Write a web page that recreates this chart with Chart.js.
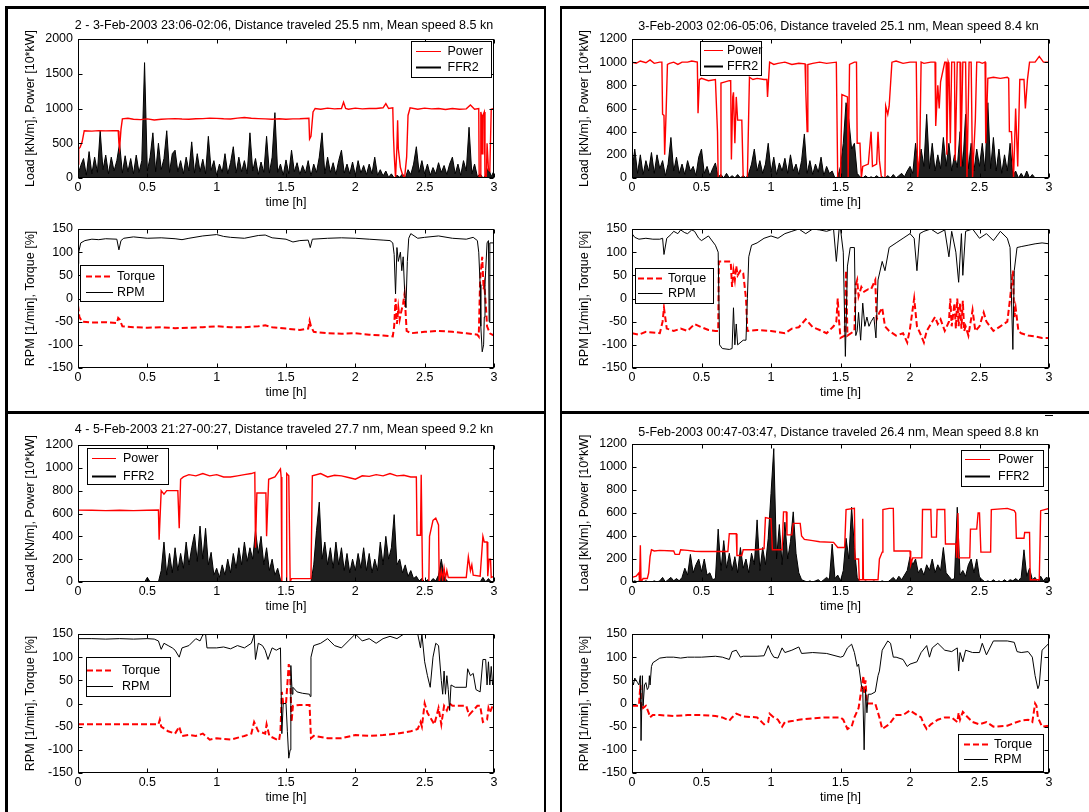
<!DOCTYPE html>
<html><head><meta charset="utf-8">
<script src="https://cdn.jsdelivr.net/npm/chart.js@4.4.0/dist/chart.umd.min.js"></script>
<style>
html,body{margin:0;padding:0;background:#fff;}
#fig{position:relative;width:1089px;height:812px;overflow:hidden;background:#fff;}
#fig canvas{position:absolute;}
.ln{position:absolute;background:#000;}
</style></head><body><div id="fig"></div>
<script>
// ---------- tick labels ----------
const xTickLabels = ['0','0.5','1','1.5','2','2.5','3'];
const yTicksLoad2000 = ['0','500','1000','1500','2000'];
const yTicksLoad1200 = ['0','200','400','600','800','1000','1200'];
const yTicksRpm = ['-150','-100','-50','0','50','100','150'];

// ---------- titles / labels ----------
const panelTitles = [
  '2 - 3-Feb-2003 23:06-02:06, Distance traveled 25.5 nm, Mean speed 8.5 kn',
  '3-Feb-2003 02:06-05:06, Distance traveled 25.1 nm, Mean speed 8.4 kn',
  '4 - 5-Feb-2003 21:27-00:27, Distance traveled 27.7 nm, Mean speed 9.2 kn',
  '5-Feb-2003 00:47-03:47, Distance traveled 26.4 nm, Mean speed 8.8 kn'
];
const yTitleLoad = 'Load [kN/m], Power [10*kW]';
const yTitleRpm = 'RPM [1/min], Torque [%]';
const xTitle = 'time [h]';

// ---------- FFR2 series, sampled every 0.02 h from 0 to 3 h ----------
const FFR_STEP = 0.02;
const ffr1 = [50,180,280,40,380,60,300,80,680,120,330,60,300,100,250,500,70,320,90,280,
60,330,80,250,1660,100,300,650,90,500,120,280,680,80,350,400,90,250,60,300,
100,520,70,350,90,270,60,600,110,250,40,200,80,350,60,220,450,70,300,90,
250,60,650,100,280,50,230,80,600,70,300,940,80,200,40,260,60,400,90,220,
50,180,70,250,30,200,80,300,650,60,300,80,220,50,250,400,70,200,60,230,
40,250,70,180,50,200,60,300,40,120,30,100,10,60,0,40,10,60,0,120,
50,200,450,80,250,60,200,40,150,60,220,80,180,50,200,300,60,200,40,250,
100,730,60,200,20,60,0,40,150,20,100];
const ffr2 = [60,250,40,200,30,150,60,220,40,200,80,150,20,120,350,60,180,40,120,30,
150,60,100,20,180,250,40,100,20,80,130,10,30,0,40,0,20,0,30,0,
20,0,40,120,250,60,150,40,120,300,50,180,30,130,60,170,40,200,60,120,
30,150,380,40,150,30,120,50,180,20,100,40,60,0,10,100,300,650,500,250,
300,40,10,0,20,0,10,0,20,0,10,0,20,0,30,0,20,40,10,60,
100,40,300,80,250,100,550,80,300,60,200,80,350,100,300,60,200,90,400,100,
550,80,300,60,250,100,300,60,650,80,350,60,250,40,200,60,300,20,60,0,
40,0,60,0,30,0,0,0,0,0,0];
const ffr3 = [0,0,0,0,0,0,0,0,0,0,0,0,0,0,0,0,0,0,0,0,
0,0,0,0,0,40,0,0,0,0,100,350,60,250,80,300,100,250,120,350,
150,300,420,180,490,200,470,150,260,60,120,40,150,60,200,80,250,120,300,150,
350,180,300,200,450,250,400,150,300,100,200,60,120,20,0,0,0,0,0,0,
0,0,0,0,0,150,450,700,200,350,150,300,120,350,150,300,100,250,80,200,
100,250,120,300,100,250,80,200,100,350,150,400,200,300,590,150,200,80,150,50,
100,30,50,10,30,0,20,0,30,10,60,200,50,10,0,0,0,0,0,0,
0,0,0,0,0,0,40,0,30,0,0];
const ffr4 = [0,10,0,20,0,10,0,0,10,0,10,40,0,20,40,10,30,10,40,120,
60,240,80,150,200,90,200,60,80,20,30,460,100,360,120,250,100,220,80,300,
120,200,80,250,150,540,100,300,150,380,770,1160,200,500,150,520,200,350,610,250,
80,20,10,0,10,0,10,20,0,20,40,20,330,30,60,10,100,380,200,650,
300,40,0,0,10,0,0,10,0,0,10,0,0,20,40,10,50,20,60,100,
220,150,200,80,120,60,150,100,200,80,150,100,300,80,50,20,30,650,60,100,
50,150,200,80,200,40,20,0,10,0,20,0,10,0,20,0,20,10,30,10,
40,280,50,120,20,40,0,50,10,40,30];

// ---------- Power series [time h, value] ----------
const power1 = [[0,200],[0.005,420],[0.015,440],[0.03,520],[0.045,680],[0.1,675],[0.15,682],[0.2,678],[0.25,680],[0.29,680],[0.295,500],[0.3,430],[0.31,700],[0.32,850],[0.36,860],[0.4,845],[0.45,840],[0.5,850],[0.55,835],[0.6,845],[0.65,850],[0.7,855],[0.75,848],[0.8,845],[0.85,852],[0.9,855],[0.95,862],[1.0,858],[1.05,852],[1.1,850],[1.15,862],[1.2,870],[1.25,860],[1.3,855],[1.35,850],[1.4,845],[1.45,852],[1.5,845],[1.55,850],[1.6,852],[1.665,860],[1.67,560],[1.68,600],[1.695,950],[1.71,1000],[1.75,990],[1.8,1005],[1.85,995],[1.9,1000],[1.915,1090],[1.93,1000],[1.95,990],[2.0,1005],[2.05,995],[2.1,1000],[2.15,1000],[2.2,1010],[2.22,1070],[2.24,1000],[2.27,1010],[2.275,600],[2.28,350],[2.29,0],[2.3,450],[2.305,830],[2.31,420],[2.325,150],[2.34,50],[2.355,0],[2.37,300],[2.38,900],[2.395,1010],[2.45,990],[2.5,1005],[2.55,995],[2.6,1000],[2.65,985],[2.7,1000],[2.75,990],[2.8,995],[2.83,1050],[2.86,990],[2.89,1000],[2.893,20],[2.9,20],[2.905,950],[2.91,900],[2.915,350],[2.92,900],[2.93,950],[2.935,20],[2.945,20],[2.95,500],[2.96,120],[2.97,100],[2.98,990],[3.0,1000]];
const power2 = [[0,1000],[0.03,990],[0.06,1010],[0.1,995],[0.13,1020],[0.16,990],[0.2,1000],[0.215,1000],[0.22,550],[0.23,540],[0.235,200],[0.245,550],[0.255,980],[0.27,990],[0.3,1000],[0.33,980],[0.36,1000],[0.4,1000],[0.43,1010],[0.47,1000],[0.475,560],[0.485,850],[0.5,860],[0.55,840],[0.6,850],[0.615,400],[0.62,0],[0.635,0],[0.64,820],[0.67,830],[0.7,840],[0.71,840],[0.715,160],[0.725,700],[0.73,740],[0.74,300],[0.75,700],[0.76,500],[0.79,500],[0.8,0],[0.83,0],[0.845,870],[0.87,850],[0.9,860],[0.95,850],[0.97,850],[0.975,700],[0.99,1000],[1.02,980],[1.05,990],[1.1,1000],[1.15,980],[1.2,990],[1.245,985],[1.25,760],[1.26,400],[1.265,980],[1.3,990],[1.35,1000],[1.4,990],[1.47,1000],[1.48,0],[1.5,0],[1.51,720],[1.55,700],[1.555,0],[1.565,980],[1.6,1000],[1.615,1000],[1.62,300],[1.64,300],[1.65,0],[1.66,100],[1.7,120],[1.72,400],[1.73,100],[1.76,120],[1.77,400],[1.78,150],[1.795,0],[1.82,0],[1.825,620],[1.84,550],[1.85,620],[1.87,1000],[1.9,1010],[1.95,990],[2.0,1000],[2.045,1000],[2.055,0],[2.07,200],[2.08,1000],[2.1,990],[2.15,1000],[2.18,1000],[2.185,450],[2.2,800],[2.21,600],[2.22,830],[2.25,1000],[2.26,1000],[2.265,200],[2.275,1000],[2.28,980],[2.29,300],[2.3,1000],[2.32,1000],[2.325,150],[2.34,1000],[2.36,1000],[2.365,100],[2.38,1000],[2.4,1000],[2.41,0],[2.425,1000],[2.44,1000],[2.45,0],[2.47,500],[2.48,1000],[2.5,1000],[2.52,990],[2.54,1000],[2.545,300],[2.56,860],[2.6,870],[2.65,860],[2.7,870],[2.71,860],[2.715,400],[2.73,400],[2.745,0],[2.76,600],[2.775,100],[2.79,850],[2.82,850],[2.83,600],[2.845,850],[2.86,1000],[2.9,1000],[2.93,1050],[2.96,1000],[3.0,1000]];
const power3 = [[0,630],[0.1,628],[0.2,625],[0.3,628],[0.4,625],[0.5,628],[0.58,630],[0.585,370],[0.6,800],[0.62,770],[0.64,800],[0.72,800],[0.73,470],[0.74,900],[0.76,920],[0.8,940],[0.85,930],[0.9,950],[0.95,930],[1.0,940],[1.05,920],[1.1,920],[1.15,930],[1.2,940],[1.25,950],[1.275,960],[1.28,300],[1.29,780],[1.355,780],[1.36,400],[1.375,900],[1.42,920],[1.46,990],[1.465,920],[1.47,0],[1.5,0],[1.505,950],[1.52,930],[1.53,0],[1.54,30],[1.6,30],[1.68,30],[1.69,930],[1.75,950],[1.8,920],[1.85,935],[1.9,930],[1.95,915],[2.0,900],[2.05,930],[2.1,925],[2.15,940],[2.2,930],[2.25,950],[2.3,930],[2.35,935],[2.4,920],[2.44,920],[2.445,410],[2.47,410],[2.475,940],[2.485,0],[2.53,0],[2.535,400],[2.56,540],[2.58,560],[2.6,500],[2.605,0],[2.62,100],[2.63,20],[2.64,120],[2.65,30],[2.66,100],[2.67,40],[2.8,40],[2.815,220],[2.83,100],[2.84,150],[2.85,60],[2.9,50],[2.92,400],[2.93,350],[2.95,350],[2.955,50],[2.965,200],[2.975,200],[2.98,40],[3.0,50]];
const power4 = [[0,40],[0.03,50],[0.05,80],[0.055,0],[0.06,320],[0.065,0],[0.08,30],[0.11,30],[0.12,80],[0.13,220],[0.14,280],[0.16,270],[0.2,275],[0.3,270],[0.31,240],[0.34,240],[0.35,280],[0.4,275],[0.45,268],[0.5,265],[0.6,265],[0.69,265],[0.7,420],[0.75,420],[0.755,230],[0.79,230],[0.8,280],[0.9,280],[0.95,290],[0.96,560],[1.0,550],[1.01,280],[1.08,280],[1.09,610],[1.11,610],[1.115,410],[1.15,410],[1.16,510],[1.21,510],[1.22,400],[1.24,370],[1.3,360],[1.35,350],[1.45,345],[1.48,300],[1.53,300],[1.54,630],[1.6,640],[1.605,200],[1.63,200],[1.635,20],[1.655,20],[1.66,550],[1.665,20],[1.77,20],[1.78,200],[1.8,260],[1.805,630],[1.85,640],[1.88,640],[1.885,270],[2.0,270],[2.005,150],[2.02,210],[2.085,210],[2.09,630],[2.15,630],[2.155,390],[2.19,390],[2.195,630],[2.25,630],[2.255,330],[2.33,330],[2.335,210],[2.345,600],[2.35,210],[2.43,210],[2.435,460],[2.48,460],[2.49,600],[2.5,600],[2.51,260],[2.58,260],[2.585,630],[2.7,640],[2.75,620],[2.76,600],[2.765,380],[2.82,380],[2.825,430],[2.86,430],[2.865,20],[2.93,20],[2.94,620],[3.0,640]];

// ---------- RPM series [time h, value] ----------
const rpm1 = [[0,75],[0.005,100],[0.02,120],[0.05,125],[0.1,128],[0.15,127],[0.2,129],[0.28,128],[0.295,105],[0.31,125],[0.33,130],[0.4,133],[0.5,130],[0.6,131],[0.7,129],[0.75,127],[0.8,130],[0.9,135],[1.0,138],[1.05,134],[1.1,132],[1.2,130],[1.3,136],[1.35,137],[1.4,131],[1.5,128],[1.55,122],[1.6,125],[1.66,126],[1.675,110],[1.69,128],[1.8,130],[1.9,131],[2.0,130],[2.1,128],[2.2,126],[2.25,125],[2.27,120],[2.28,95],[2.29,10],[2.3,110],[2.31,80],[2.325,100],[2.335,60],[2.345,90],[2.355,20],[2.365,-20],[2.375,80],[2.385,130],[2.4,140],[2.45,130],[2.5,132],[2.6,135],[2.7,130],[2.8,128],[2.85,132],[2.88,125],[2.89,100],[2.9,30],[2.905,-60],[2.915,-115],[2.925,-100],[2.93,-40],[2.935,30],[2.94,60],[2.95,120],[2.96,125],[2.965,-50],[2.97,120],[3.0,120]];
const rpm2 = [[0,140],[0.02,132],[0.05,128],[0.1,130],[0.15,128],[0.2,128],[0.22,130],[0.23,95],[0.25,130],[0.28,138],[0.3,145],[0.33,140],[0.35,148],[0.38,142],[0.4,140],[0.43,148],[0.45,145],[0.48,130],[0.5,125],[0.55,135],[0.6,115],[0.62,100],[0.63,-100],[0.65,-108],[0.7,-110],[0.72,-108],[0.73,-20],[0.74,-100],[0.75,-55],[0.76,-100],[0.8,-90],[0.82,-90],[0.83,0],[0.84,90],[0.86,115],[0.9,120],[0.95,130],[1.0,135],[1.05,130],[1.1,140],[1.15,145],[1.2,150],[1.25,140],[1.3,150],[1.35,148],[1.4,145],[1.45,150],[1.47,80],[1.49,150],[1.5,150],[1.52,100],[1.535,-125],[1.55,70],[1.57,110],[1.6,110],[1.61,-80],[1.62,-70],[1.63,-30],[1.645,-90],[1.66,-10],[1.675,-60],[1.69,-40],[1.705,-60],[1.72,-50],[1.74,-40],[1.755,-85],[1.77,40],[1.8,80],[1.82,60],[1.85,110],[1.9,120],[1.95,130],[2.0,140],[2.03,130],[2.05,60],[2.07,140],[2.1,145],[2.15,150],[2.2,140],[2.25,148],[2.28,90],[2.3,145],[2.33,100],[2.35,35],[2.37,140],[2.38,50],[2.4,145],[2.45,150],[2.5,130],[2.55,140],[2.6,125],[2.65,145],[2.7,130],[2.72,110],[2.74,-110],[2.75,60],[2.77,110],[2.8,112],[2.85,115],[2.9,118],[2.95,120],[3.0,118]];
const rpm3 = [[0,140],[0.1,140],[0.2,139],[0.3,140],[0.4,139],[0.5,140],[0.55,139],[0.58,135],[0.6,117],[0.62,130],[0.65,125],[0.68,120],[0.7,115],[0.73,100],[0.75,120],[0.8,125],[0.85,140],[0.88,135],[0.9,148],[0.92,150],[0.93,120],[1.0,120],[1.05,122],[1.1,118],[1.15,125],[1.2,120],[1.25,130],[1.27,148],[1.28,95],[1.3,130],[1.33,125],[1.35,115],[1.37,95],[1.4,120],[1.43,115],[1.46,120],[1.47,-65],[1.48,0],[1.5,0],[1.51,-60],[1.52,-118],[1.53,-100],[1.535,82],[1.545,20],[1.55,35],[1.58,25],[1.62,22],[1.67,20],[1.675,15],[1.68,100],[1.7,125],[1.75,130],[1.8,140],[1.85,125],[1.9,120],[1.95,135],[2.0,150],[2.05,135],[2.1,140],[2.15,130],[2.2,140],[2.25,145],[2.3,140],[2.35,150],[2.45,150],[2.47,120],[2.48,150],[2.5,90],[2.52,60],[2.54,35],[2.56,100],[2.58,130],[2.6,125],[2.62,50],[2.63,20],[2.64,70],[2.65,20],[2.66,60],[2.67,30],[2.68,-15],[2.69,40],[2.72,35],[2.8,35],[2.81,75],[2.83,60],[2.85,65],[2.87,30],[2.9,25],[2.92,95],[2.94,95],[2.95,40],[2.96,90],[2.97,40],[2.98,80],[2.99,40],[3.0,50]];
const rpm4 = [[0,50],[0.01,40],[0.02,55],[0.04,45],[0.05,40],[0.06,60],[0.065,-80],[0.075,60],[0.08,-5],[0.09,40],[0.1,45],[0.11,30],[0.12,35],[0.125,60],[0.13,40],[0.14,80],[0.15,88],[0.2,98],[0.25,100],[0.3,100],[0.35,98],[0.4,100],[0.45,100],[0.5,100],[0.6,102],[0.65,100],[0.7,95],[0.72,112],[0.75,115],[0.78,100],[0.8,102],[0.9,102],[0.95,103],[0.98,125],[1.0,110],[1.02,100],[1.05,98],[1.08,120],[1.1,110],[1.15,115],[1.2,122],[1.22,108],[1.3,110],[1.4,108],[1.5,100],[1.52,102],[1.55,120],[1.58,128],[1.6,110],[1.62,80],[1.63,85],[1.65,40],[1.66,30],[1.67,-100],[1.68,30],[1.69,-20],[1.7,20],[1.72,20],[1.75,25],[1.77,60],[1.78,70],[1.8,115],[1.84,135],[1.86,130],[1.88,100],[1.9,100],[1.95,95],[1.98,80],[2.0,85],[2.05,90],[2.08,110],[2.12,125],[2.14,100],[2.16,120],[2.2,130],[2.25,115],[2.3,112],[2.34,120],[2.35,70],[2.36,110],[2.38,90],[2.4,115],[2.45,110],[2.5,110],[2.52,130],[2.55,105],[2.6,135],[2.7,135],[2.75,132],[2.77,112],[2.8,110],[2.85,112],[2.88,100],[2.9,60],[2.92,32],[2.93,40],[2.95,115],[3.0,130]];

// ---------- Torque series [time h, value] ----------
const torque1 = [[0,-15],[0.01,-40],[0.03,-50],[0.1,-52],[0.2,-51],[0.28,-53],[0.29,-42],[0.3,-45],[0.32,-60],[0.4,-62],[0.5,-63],[0.6,-62],[0.7,-64],[0.8,-63],[0.9,-62],[1.0,-60],[1.1,-62],[1.2,-62],[1.3,-60],[1.35,-58],[1.4,-62],[1.5,-65],[1.6,-68],[1.66,-65],[1.67,-48],[1.68,-60],[1.7,-72],[1.8,-75],[1.9,-76],[2.0,-75],[2.1,-78],[2.2,-80],[2.27,-82],[2.28,-60],[2.29,0],[2.3,-55],[2.31,-20],[2.32,-45],[2.33,-30],[2.345,-10],[2.355,10],[2.37,-70],[2.4,-75],[2.5,-72],[2.6,-70],[2.7,-72],[2.8,-75],[2.88,-78],[2.89,-82],[2.9,40],[2.915,90],[2.925,20],[2.93,30],[2.94,-10],[2.95,-60],[2.97,-75],[3.0,-80]];
const torque2 = [[0,-75],[0.05,-78],[0.1,-72],[0.2,-75],[0.22,-50],[0.23,-20],[0.25,-65],[0.3,-70],[0.35,-65],[0.4,-70],[0.45,-55],[0.5,-62],[0.55,-68],[0.6,-70],[0.62,-70],[0.625,80],[0.71,80],[0.72,25],[0.73,60],[0.74,40],[0.75,70],[0.76,50],[0.78,60],[0.8,55],[0.82,0],[0.83,-70],[0.9,-68],[1.0,-70],[1.1,-75],[1.15,-65],[1.2,-62],[1.25,-45],[1.3,-62],[1.35,-68],[1.4,-75],[1.45,-60],[1.47,-50],[1.48,0],[1.49,-50],[1.5,-85],[1.53,-80],[1.54,60],[1.55,-80],[1.6,-70],[1.61,30],[1.62,40],[1.63,5],[1.65,25],[1.67,15],[1.7,20],[1.72,20],[1.75,40],[1.76,-45],[1.78,-30],[1.8,-20],[1.82,-60],[1.85,-70],[1.9,-80],[1.95,-75],[1.98,-95],[2.0,-65],[2.03,0],[2.05,-60],[2.08,-80],[2.1,-95],[2.12,-70],[2.15,-55],[2.18,-40],[2.2,-55],[2.22,-45],[2.25,-70],[2.28,-50],[2.29,0],[2.3,-60],[2.32,-10],[2.33,-65],[2.34,0],[2.35,-60],[2.36,-10],[2.37,-65],[2.38,-5],[2.39,-70],[2.4,-60],[2.42,-80],[2.45,-25],[2.47,-70],[2.5,-60],[2.53,-30],[2.55,-50],[2.6,-70],[2.65,-60],[2.7,-50],[2.72,0],[2.74,60],[2.75,-40],[2.76,-20],[2.78,-70],[2.8,-75],[2.85,-80],[2.9,-82],[2.95,-85],[3.0,-85]];
const torque3 = [[0,-45],[0.2,-45],[0.4,-45],[0.58,-45],[0.59,-35],[0.6,-50],[0.65,-60],[0.7,-65],[0.73,-50],[0.75,-70],[0.8,-68],[0.85,-70],[0.9,-65],[0.95,-78],[1.0,-75],[1.1,-78],[1.2,-70],[1.25,-65],[1.27,-40],[1.3,-60],[1.35,-65],[1.36,-45],[1.38,-70],[1.45,-80],[1.46,-60],[1.47,25],[1.48,0],[1.5,0],[1.52,85],[1.53,60],[1.54,-40],[1.55,-5],[1.6,-3],[1.67,-3],[1.68,-75],[1.7,-70],[1.8,-75],[1.9,-75],[2.0,-68],[2.1,-70],[2.2,-68],[2.3,-65],[2.4,-60],[2.45,-55],[2.47,-40],[2.48,-50],[2.49,-25],[2.5,0],[2.52,-20],[2.55,-35],[2.57,-45],[2.6,-10],[2.62,-45],[2.64,-5],[2.66,-15],[2.68,0],[2.7,-5],[2.8,-5],[2.82,-25],[2.85,-15],[2.88,-5],[2.9,-5],[2.92,-40],[2.95,-35],[2.96,-10],[2.97,-20],[2.99,-5],[3.0,-5]];
const torque4 = [[0,-5],[0.05,-5],[0.06,40],[0.065,-5],[0.07,0],[0.08,-10],[0.1,-5],[0.12,-20],[0.13,-30],[0.15,-25],[0.2,-25],[0.3,-27],[0.4,-25],[0.5,-25],[0.6,-27],[0.65,-30],[0.7,-37],[0.72,-30],[0.75,-22],[0.8,-28],[0.9,-30],[0.95,-45],[0.98,-40],[0.99,-22],[1.02,-30],[1.05,-35],[1.08,-50],[1.1,-40],[1.15,-38],[1.2,-35],[1.3,-32],[1.4,-30],[1.5,-30],[1.52,-35],[1.55,-55],[1.58,-50],[1.6,-30],[1.63,-10],[1.65,30],[1.665,60],[1.67,20],[1.68,50],[1.69,0],[1.7,0],[1.75,0],[1.78,-30],[1.8,-55],[1.85,-45],[1.9,-25],[1.95,-25],[2.0,-15],[2.05,-25],[2.08,-30],[2.1,-45],[2.12,-55],[2.15,-45],[2.2,-35],[2.25,-30],[2.3,-30],[2.34,-40],[2.35,-20],[2.36,-35],[2.38,-18],[2.4,-25],[2.45,-40],[2.5,-45],[2.55,-40],[2.6,-50],[2.7,-48],[2.75,-42],[2.8,-37],[2.85,-35],[2.88,-40],[2.9,0],[2.91,-5],[2.92,-30],[2.95,-50],[3.0,-48]];

// ---------- rendering ----------
const FONT = '"Liberation Sans", Arial, Helvetica, sans-serif';
const FS = 12.5;
Chart.defaults.font.family = FONT;
Chart.defaults.font.size = FS;
Chart.defaults.color = '#000';
const fig = document.getElementById('fig');

const ffrPts = arr => arr.map((v, i) => ({x: i * FFR_STEP, y: v}));
const pairPts = arr => arr.map(p => ({x: p[0], y: p[1]}));

const framePlugin = {
  id: 'frame',
  afterDatasetsDraw(chart, args, o) {
    const {ctx, chartArea: a, scales} = chart;
    const L = Math.round(a.left) + 0.5, R = Math.round(a.right) - 0.5;
    const T = Math.round(a.top) + 0.5, B = Math.round(a.bottom) - 0.5;
    ctx.save();
    ctx.strokeStyle = '#000'; ctx.lineWidth = 1; ctx.setLineDash([]);
    ctx.strokeRect(L, T, R - L, B - T);
    ctx.beginPath();
    scales.x.ticks.forEach(t => {
      const px = Math.round(scales.x.getPixelForValue(t.value)) + 0.5;
      ctx.moveTo(px, B); ctx.lineTo(px, B - 4);
      ctx.moveTo(px, T); ctx.lineTo(px, T + 4);
    });
    scales.y.ticks.forEach(t => {
      const py = Math.round(scales.y.getPixelForValue(t.value)) + 0.5;
      ctx.moveTo(L, py); ctx.lineTo(L + 4, py);
      ctx.moveTo(R, py); ctx.lineTo(R - 4, py);
    });
    ctx.stroke();
    // legend
    const lg = o.legend;
    const bx = Math.round(a.left + lg.bx) + 0.5, by = Math.round(a.top + lg.by) + 0.5;
    ctx.fillStyle = '#fff';
    ctx.fillRect(bx, by, Math.round(lg.bw), Math.round(lg.bh));
    ctx.strokeStyle = '#000';
    ctx.strokeRect(bx, by, Math.round(lg.bw), Math.round(lg.bh));
    chart.data.datasets.forEach((ds, i) => {
      const ry = Math.round(a.top + lg.rows[i]) + 0.5;
      ctx.save();
      ctx.strokeStyle = ds.borderColor; ctx.lineWidth = lg.widths[i];
      ctx.setLineDash(ds.borderDash || []);
      ctx.beginPath(); ctx.moveTo(a.left + lg.lx1, ry); ctx.lineTo(a.left + lg.lx2, ry); ctx.stroke();
      ctx.restore();
      ctx.fillStyle = '#000'; ctx.font = FS + 'px ' + FONT;
      ctx.textAlign = 'left'; ctx.textBaseline = 'middle';
      ctx.fillText(ds.label, a.left + lg.tx, a.top + lg.rows[i] + 0.5);
    });
    // panel title
    if (o.title) {
      ctx.fillStyle = '#000'; ctx.font = FS + 'px ' + FONT;
      ctx.textAlign = 'center'; ctx.textBaseline = 'middle';
      ctx.fillText(o.title, (a.left + a.right) / 2 - 2, a.top - o.titleDy);
    }
    ctx.restore();
  }
};

function makeChart(p) {
  const W = 70 + p.w + 22, H = 40 + p.h + 36;
  const cv = document.createElement('canvas');
  cv.width = W; cv.height = H;
  cv.style.left = (p.x - 70) + 'px'; cv.style.top = (p.y - 40) + 'px';
  cv.style.width = W + 'px'; cv.style.height = H + 'px';
  fig.appendChild(cv);
  new Chart(cv, {
    type: 'line',
    data: {datasets: p.datasets},
    options: {
      responsive: false, animation: false, devicePixelRatio: 1, events: [],
      layout: {padding: {left: 0, top: 40, right: 22, bottom: 0}},
      elements: {point: {radius: 0}, line: {tension: 0}},
      plugins: {legend: {display: false}, tooltip: {enabled: false}, title: {display: false},
        filler: {propagate: false},
        frame: {legend: p.legend, title: p.title, titleDy: p.titleDy}},
      scales: {
        x: {type: 'linear', min: 0, max: 3,
          afterFit: s => { s.height = 36; },
          ticks: {stepSize: 0.5, autoSkip: false, maxRotation: 0, padding: 2, color: '#000',
            font: {family: FONT, size: FS}, callback: (v, i) => xTickLabels[i]},
          grid: {display: false, drawTicks: false}, border: {display: false},
          title: {display: true, text: xTitle, color: '#000', font: {family: FONT, size: FS},
            padding: {top: 0, bottom: 3.5}}},
        y: {type: 'linear', min: p.ymin, max: p.ymax,
          afterFit: s => { s.width = 70; },
          ticks: {stepSize: p.ystep, autoSkip: false, padding: 5, color: '#000',
            font: {family: FONT, size: FS}, callback: (v, i) => p.yLabels[i]},
          grid: {display: false, drawTicks: false}, border: {display: false},
          title: {display: true, text: p.yTitle, color: '#000', font: {family: FONT, size: FS},
            padding: {top: 15.5, bottom: 0}}}
      }
    },
    plugins: [framePlugin]
  });
}

function loadSets(power, ffr) {
  return [
    {label: 'Power', data: pairPts(power), borderColor: '#ff0000', borderWidth: 1.4, order: 0},
    {label: 'FFR2', data: ffrPts(ffr), borderColor: '#000000', borderWidth: 1, order: 1,
     fill: 'origin', backgroundColor: 'rgba(0,0,0,0.88)'}
  ];
}
function rpmSets(torque, rpm) {
  return [
    {label: 'Torque', data: pairPts(torque), borderColor: '#ff0000', borderWidth: 2, borderDash: [6, 3], order: 1},
    {label: 'RPM', data: pairPts(rpm), borderColor: '#000000', borderWidth: 1, order: 0}
  ];
}

const panels = [
  {x: 78, y: 39, w: 416, h: 139, ymin: 0, ymax: 2000, ystep: 500, yLabels: yTicksLoad2000, yTitle: yTitleLoad,
   title: panelTitles[0], titleDy: 13, datasets: loadSets(power1, ffr1),
   legend: {bx: 333, by: 2, bw: 80, bh: 36, rows: [11.7, 27.7], lx1: 338, lx2: 363, tx: 369.5, widths: [1, 2]}},
  {x: 78, y: 229, w: 416, h: 139, ymin: -150, ymax: 150, ystep: 50, yLabels: yTicksRpm, yTitle: yTitleRpm,
   datasets: rpmSets(torque1, rpm1),
   legend: {bx: 2, by: 36, bw: 83, bh: 36, rows: [46.7, 62.7], lx1: 8, lx2: 35, tx: 39, widths: [2, 1]}},
  {x: 632, y: 39, w: 417, h: 139, ymin: 0, ymax: 1200, ystep: 200, yLabels: yTicksLoad1200, yTitle: yTitleLoad,
   title: panelTitles[1], titleDy: 12.3, datasets: loadSets(power2, ffr2),
   legend: {bx: 68, by: 2, bw: 61, bh: 34, rows: [11, 27], lx1: 72, lx2: 91, tx: 95, widths: [1, 2]}},
  {x: 632, y: 229, w: 417, h: 139, ymin: -150, ymax: 150, ystep: 50, yLabels: yTicksRpm, yTitle: yTitleRpm,
   datasets: rpmSets(torque2, rpm2),
   legend: {bx: 3, by: 39, bw: 78, bh: 35, rows: [49, 64], lx1: 6, lx2: 30.5, tx: 36, widths: [2, 1]}},
  {x: 78, y: 445, w: 416, h: 137, ymin: 0, ymax: 1200, ystep: 200, yLabels: yTicksLoad1200, yTitle: yTitleLoad,
   title: panelTitles[2], titleDy: 15, datasets: loadSets(power3, ffr3),
   legend: {bx: 9, by: 3.3, bw: 80.5, bh: 36, rows: [13.3, 30.7], lx1: 14, lx2: 38, tx: 45, widths: [1, 2]}},
  {x: 78, y: 634, w: 416, h: 139, ymin: -150, ymax: 150, ystep: 50, yLabels: yTicksRpm, yTitle: yTitleRpm,
   datasets: rpmSets(torque3, rpm3),
   legend: {bx: 8, by: 23.3, bw: 84, bh: 38.7, rows: [36, 51.7], lx1: 9, lx2: 35, tx: 44, widths: [2, 1]}},
  {x: 632, y: 444, w: 417, h: 138, ymin: 0, ymax: 1200, ystep: 200, yLabels: yTicksLoad1200, yTitle: yTitleLoad,
   title: panelTitles[3], titleDy: 11, datasets: loadSets(power4, ffr4),
   legend: {bx: 328.6, by: 6, bw: 82, bh: 35.7, rows: [15, 32], lx1: 333, lx2: 358, tx: 366, widths: [1, 2]}},
  {x: 632, y: 634, w: 417, h: 139, ymin: -150, ymax: 150, ystep: 50, yLabels: yTicksRpm, yTitle: yTitleRpm,
   datasets: rpmSets(torque4, rpm4),
   legend: {bx: 326, by: 100, bw: 84.7, bh: 37, rows: [110, 125], lx1: 332, lx2: 356, tx: 362, widths: [2, 1]}}
];
panels.forEach(makeChart);

// panel frames (figure borders)
const frameLines = [
  [5, 6, 541, 3], [560, 6, 529, 3],
  [5, 6, 3, 806], [544, 6, 2, 806], [560, 6, 2, 806],
  [5, 411, 541, 3], [560, 411, 529, 3],
  [1045, 415, 8, 1]
];
frameLines.forEach(r => {
  const d = document.createElement('div');
  d.className = 'ln';
  d.style.left = r[0] + 'px'; d.style.top = r[1] + 'px';
  d.style.width = r[2] + 'px'; d.style.height = r[3] + 'px';
  fig.appendChild(d);
});
</script>
</body></html>
